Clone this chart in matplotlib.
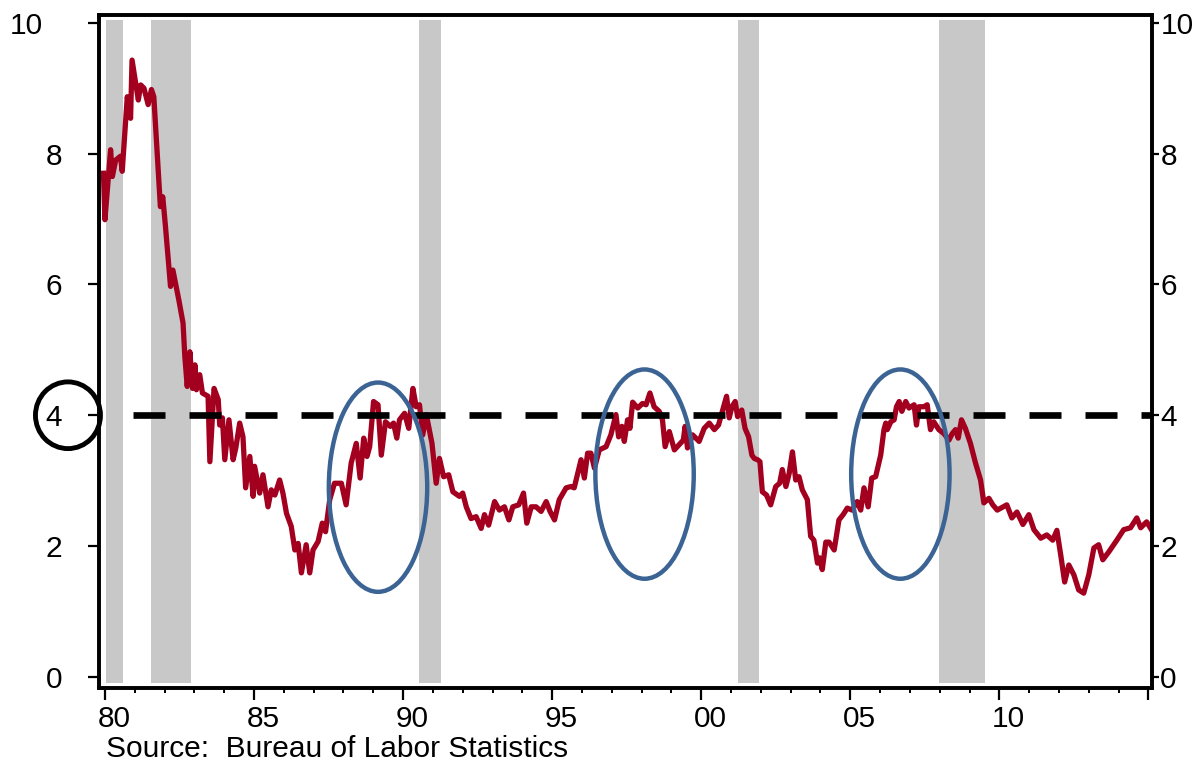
import numpy as np
import matplotlib
matplotlib.use("Agg")
import matplotlib.pyplot as plt
import matplotlib.transforms as mtransforms
from matplotlib.patches import Ellipse

plt.rcParams['font.family'] = ['Liberation Sans', 'DejaVu Sans']

# year-over-year growth (decimal year, percent)
dates = [
    1979.95, 1980.0, 1980.19, 1980.25, 1980.36, 1980.52, 1980.58, 1980.75, 1980.86, 1980.91,
    1981.12, 1981.2, 1981.31, 1981.45, 1981.56, 1981.64, 1981.86, 1981.94, 1982.03, 1982.2,
    1982.28, 1982.48, 1982.62, 1982.68, 1982.76, 1982.85, 1982.94, 1983.02, 1983.07, 1983.18,
    1983.27, 1983.46, 1983.52, 1983.66, 1983.8, 1983.85, 1983.94, 1984.02, 1984.16, 1984.3,
    1984.39, 1984.52, 1984.63, 1984.72, 1984.86, 1984.97, 1985.02, 1985.19, 1985.3, 1985.47,
    1985.58, 1985.7, 1985.86, 1985.97, 1986.09, 1986.25, 1986.37, 1986.48, 1986.59, 1986.75,
    1986.87, 1986.98, 1987.15, 1987.29, 1987.4, 1987.54, 1987.7, 1987.93, 1988.09, 1988.26,
    1988.43, 1988.56, 1988.68, 1988.79, 1988.88, 1989.01, 1989.16, 1989.27, 1989.41, 1989.57,
    1989.68, 1989.79, 1989.88, 1990.05, 1990.19, 1990.33, 1990.44, 1990.55, 1990.66, 1990.78,
    1990.97, 1991.11, 1991.22, 1991.36, 1991.53, 1991.67, 1991.89, 1992.0, 1992.12, 1992.28,
    1992.45, 1992.62, 1992.73, 1992.87, 1993.07, 1993.23, 1993.4, 1993.55, 1993.68, 1993.88,
    1994.04, 1994.15, 1994.3, 1994.46, 1994.63, 1994.8, 1994.93, 1995.08, 1995.24, 1995.47,
    1995.63, 1995.74, 1995.89, 1995.97, 1996.08, 1996.19, 1996.3, 1996.42, 1996.58, 1996.81,
    1996.97, 1997.14, 1997.23, 1997.34, 1997.42, 1997.53, 1997.61, 1997.7, 1997.87, 1998.03,
    1998.15, 1998.28, 1998.42, 1998.59, 1998.7, 1998.79, 1998.93, 1999.1, 1999.26, 1999.4,
    1999.46, 1999.54, 1999.71, 1999.93, 2000.1, 2000.27, 2000.44, 2000.58, 2000.69, 2000.85,
    2000.94, 2001.03, 2001.14, 2001.22, 2001.36, 2001.47, 2001.59, 2001.7, 2001.78, 2001.89,
    2001.97, 2002.05, 2002.19, 2002.33, 2002.5, 2002.63, 2002.72, 2002.84, 2002.95, 2003.06,
    2003.17, 2003.28, 2003.39, 2003.56, 2003.67, 2003.78, 2003.9, 2003.97, 2004.06, 2004.18,
    2004.29, 2004.46, 2004.62, 2004.76, 2004.9, 2005.06, 2005.23, 2005.35, 2005.46, 2005.6,
    2005.72, 2005.85, 2006.02, 2006.13, 2006.19, 2006.24, 2006.36, 2006.47, 2006.55, 2006.64,
    2006.73, 2006.86, 2006.97, 2007.14, 2007.22, 2007.3, 2007.47, 2007.58, 2007.69, 2007.8,
    2007.97, 2008.14, 2008.31, 2008.42, 2008.53, 2008.62, 2008.73, 2008.86, 2009.03, 2009.2,
    2009.37, 2009.48, 2009.65, 2009.78, 2009.93, 2010.25, 2010.42, 2010.59, 2010.79, 2010.99,
    2011.16, 2011.39, 2011.59, 2011.79, 2011.93, 2012.06, 2012.19, 2012.33, 2012.5, 2012.66,
    2012.83, 2013.0, 2013.17, 2013.33, 2013.47, 2013.67, 2013.94, 2014.17, 2014.4, 2014.61,
    2014.74, 2014.94, 2015.1,
]
growth = [
    7.7, 6.99, 8.06, 7.65, 7.9, 7.96, 7.73, 8.87, 8.54, 9.43,
    8.82, 9.05, 9.0, 8.75, 8.98, 8.87, 7.19, 7.34, 6.89, 5.97,
    6.22, 5.76, 5.41, 4.9, 4.44, 4.97, 4.41, 4.77, 4.39, 4.62,
    4.34, 4.29, 3.29, 4.41, 4.24, 3.85, 3.96, 3.32, 3.93, 3.32,
    3.5, 3.88, 3.67, 2.89, 3.37, 2.76, 3.22, 2.81, 3.09, 2.6,
    2.86, 2.78, 3.01, 2.81, 2.5, 2.3, 1.94, 2.04, 1.59, 2.02,
    1.59, 1.94, 2.07, 2.35, 2.22, 2.71, 2.96, 2.96, 2.63, 3.27,
    3.57, 3.04, 3.65, 3.37, 3.52, 4.21, 4.16, 3.39, 3.9, 3.83,
    3.88, 3.65, 3.93, 4.03, 3.8, 4.41, 4.13, 4.16, 3.7, 4.01,
    3.57, 2.96, 3.34, 3.06, 3.09, 2.83, 2.76, 2.81, 2.6, 2.42,
    2.45, 2.27, 2.48, 2.32, 2.68, 2.55, 2.6, 2.4, 2.6, 2.63,
    2.81, 2.35, 2.6, 2.6, 2.53, 2.68, 2.53, 2.4, 2.71, 2.89,
    2.91, 2.89, 3.17, 3.32, 3.04, 3.42, 3.42, 3.19, 3.47, 3.52,
    3.7, 4.01, 3.67, 3.83, 3.6, 3.93, 3.8, 4.2, 4.11, 4.18,
    4.16, 4.34, 4.13, 4.06, 3.93, 3.52, 3.75, 3.47, 3.55, 3.62,
    3.83, 3.5, 3.7, 3.6, 3.8, 3.88, 3.78, 3.85, 4.03, 4.29,
    3.96, 4.13, 4.21, 3.98, 4.08, 3.8, 3.67, 3.39, 3.34, 3.32,
    3.29, 2.83, 2.78, 2.63, 2.91, 2.96, 3.17, 2.91, 3.11, 3.44,
    3.01, 3.06, 2.86, 2.71, 2.15, 2.09, 1.74, 1.82, 1.64, 2.06,
    2.06, 1.94, 2.4, 2.48, 2.58, 2.55, 2.68, 2.55, 2.89, 2.6,
    3.04, 3.06, 3.39, 3.78, 3.88, 3.78, 3.9, 3.93, 4.13, 4.21,
    4.06, 4.21, 4.11, 4.16, 3.85, 4.13, 4.13, 4.16, 3.78, 3.9,
    3.78, 3.72, 3.62, 3.72, 3.78, 3.65, 3.93, 3.8, 3.57, 3.27,
    3.01, 2.66, 2.73, 2.63, 2.55, 2.63, 2.43, 2.52, 2.33, 2.48,
    2.25, 2.12, 2.17, 2.09, 2.24, 1.86, 1.45, 1.71, 1.56, 1.33,
    1.28, 1.56, 1.97, 2.02, 1.79, 1.91, 2.09, 2.25, 2.28, 2.43,
    2.28, 2.37, 2.25,
]

# recessions (start, end)
rec_start = [1980.03, 1981.54, 1990.52, 2001.24, 2007.97]
rec_end = [1980.59, 1982.90, 1991.26, 2001.94, 2009.51]

# highlighted episodes (centre year, centre value)
oval_x = [1989.16, 1998.10, 2006.68]
oval_y = [2.90, 3.10, 3.10]

threshold = 4
yticks = [0, 2, 4, 6, 8, 10]
xticks = [1980, 1985, 1990, 1995, 2000, 2005, 2010, 2015]
xlabels = ['80', '85', '90', '95', '00', '05', '10', '']

RED = '#A3001F'
BLUE = '#3B6494'
GREY = '#C8C8C8'
FS = 21.5

fig = plt.figure(figsize=(12.01, 7.64), dpi=100, facecolor='white')
ax = fig.add_axes([0.0824, 0.0995, 0.8768, 0.8809])
ax.set_xlim(1979.8, 2015.12)
ax.set_ylim(-0.17, 10.12)

for s, e in zip(rec_start, rec_end):
    ax.fill_between([s, e], -0.1, 10.05, color=GREY, lw=0, zorder=1)

ax.plot(dates, growth, color=RED, lw=3.8, zorder=3, solid_joinstyle='round')
ax.plot([1980.94, 2015.05], [threshold, threshold], color='black', lw=4.8,
        dashes=(4.8, 3.6), zorder=4)

for cx, cy in zip(oval_x, oval_y):
    ax.add_patch(Ellipse((cx, cy), 3.3, 3.2, fill=False, ec=BLUE, lw=3.2, zorder=5))

ax.add_patch(Ellipse((1978.76, threshold), 2.18, 1.02, fill=False, ec='black',
                     lw=3.5, clip_on=False, zorder=6))

for sp in ax.spines.values():
    sp.set_linewidth(2.6)

ax.set_yticks(yticks)
ax.set_yticklabels([str(v) for v in yticks])
ax.tick_params(axis='y', direction='out', length=8, width=1.6, pad=18.5, labelsize=FS)
ax.set_xticks(xticks)
ax.set_xticklabels(xlabels)
ax.set_xticks(np.arange(1980, 2016, 1), minor=True)
ax.tick_params(axis='x', which='major', direction='out', length=8.5, width=1.6,
               pad=4, labelsize=FS)
ax.tick_params(axis='x', which='minor', direction='out', length=3.6, width=1.4)

# x labels sit a little right of their ticks in the original
shift = mtransforms.ScaledTranslation(9 / 100, 0, fig.dpi_scale_trans)
for lab in ax.get_xticklabels():
    lab.set_transform(lab.get_transform() + shift)
# the "10" on the left is pushed further out
shift10 = mtransforms.ScaledTranslation(-19 / 100, 0, fig.dpi_scale_trans)
lab10 = ax.get_yticklabels()[-1]
lab10.set_transform(lab10.get_transform() + shift10)

ax2 = ax.twinx()
ax2.set_ylim(ax.get_ylim())
ax2.set_yticks(yticks)
ax2.set_yticklabels([str(v) for v in yticks])
ax2.tick_params(axis='y', direction='out', length=5, width=1.6, pad=1, labelsize=FS)
for sp in ax2.spines.values():
    sp.set_linewidth(2.6)

fig.text(0.088, 0.009, 'Source:  Bureau of Labor Statistics', fontsize=FS,
         ha='left', va='baseline')

fig.savefig('out.png', dpi=100, facecolor='white')
